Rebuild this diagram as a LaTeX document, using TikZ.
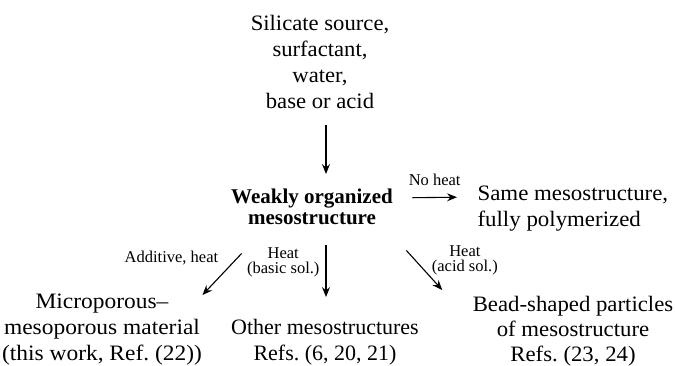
\documentclass[tikz,border=0pt]{standalone}
\usepackage{fontspec}
\setmainfont{Liberation Serif}
\usetikzlibrary{arrows.meta,calc}

\begin{document}
\begin{tikzpicture}[x=1pt,y=-1pt,>={Stealth[length=10pt,width=8pt,inset=3.5pt]},line width=1.1pt,
  txt/.style={align=center, inner sep=0pt, anchor=north, font=\fontsize{22}{26}\selectfont},
  bold/.style={align=center, inner sep=0pt, anchor=north, font=\fontsize{21}{21.5}\selectfont\bfseries},
  lbl/.style={align=center, inner sep=0pt, font=\fontsize{16.5}{15.5}\selectfont},
  widen/.style={xscale=#1, transform shape}]
\useasboundingbox (0,0) rectangle (675,366);
\draw (320,15) node[txt,widen=1.03] (src) {Silicate source,\\surfactant,\\water,\\base or acid};
\draw (312,188) node[bold] (weak) {Weakly organized\\mesostructure};
\draw (477,185) node[txt,anchor=north west,align=left,widen=1.04] (same) {Same mesostructure,\\fully polymerized};
\draw (102,293) node[txt,widen=1.065] (micro) {Microporous--\\mesoporous material\\(this work, Ref.~(22))};
\draw (325,319) node[txt] (other) {Other mesostructures\\Refs.~(6, 20, 21)};
\draw (573,296) node[txt,widen=1.035,font=\fontsize{22}{25}\selectfont] (bead) {Bead-shaped particles\\of mesostructure\\Refs.~(23, 24)};
% arrow ends
\coordinate (srcout) at ($(src.south)+(6,15)$);
\coordinate (weakin) at ($(weak.north)+(14,-14)$);
\coordinate (weakr) at ($(weak.east)+(19,-9)$);
\coordinate (samein) at ($(same.west)+(-20,-11)$);
\coordinate (weakl) at ($(weak.south west)+(11,28)$);
\coordinate (microin) at ($(micro.north east)+(0,2)$);
\coordinate (weakd) at ($(weak.south)+(14,20)$);
\coordinate (otherin) at ($(other.north)+(1,-22)$);
\coordinate (weakrd) at ($(weak.south east)+(13,25)$);
\coordinate (beadin) at ($(bead.north west)+(-30,-6)$);
\draw [->] (srcout) -- (weakin);
\draw [->] (weakr) -- (samein) node[lbl,midway,above=11pt] {No heat};
\draw [->] (weakl) -- (microin) node[lbl,pos=0.1,left=19pt] {Additive, heat};
\draw [->] (weakd) -- (otherin) node[lbl,pos=0.33,left=6pt] {Heat\\(basic sol.)};
\draw [->] (weakrd) -- (beadin) node[lbl,pos=0.25,right=16pt] {Heat\\(acid sol.)};

\end{tikzpicture}
\end{document}
